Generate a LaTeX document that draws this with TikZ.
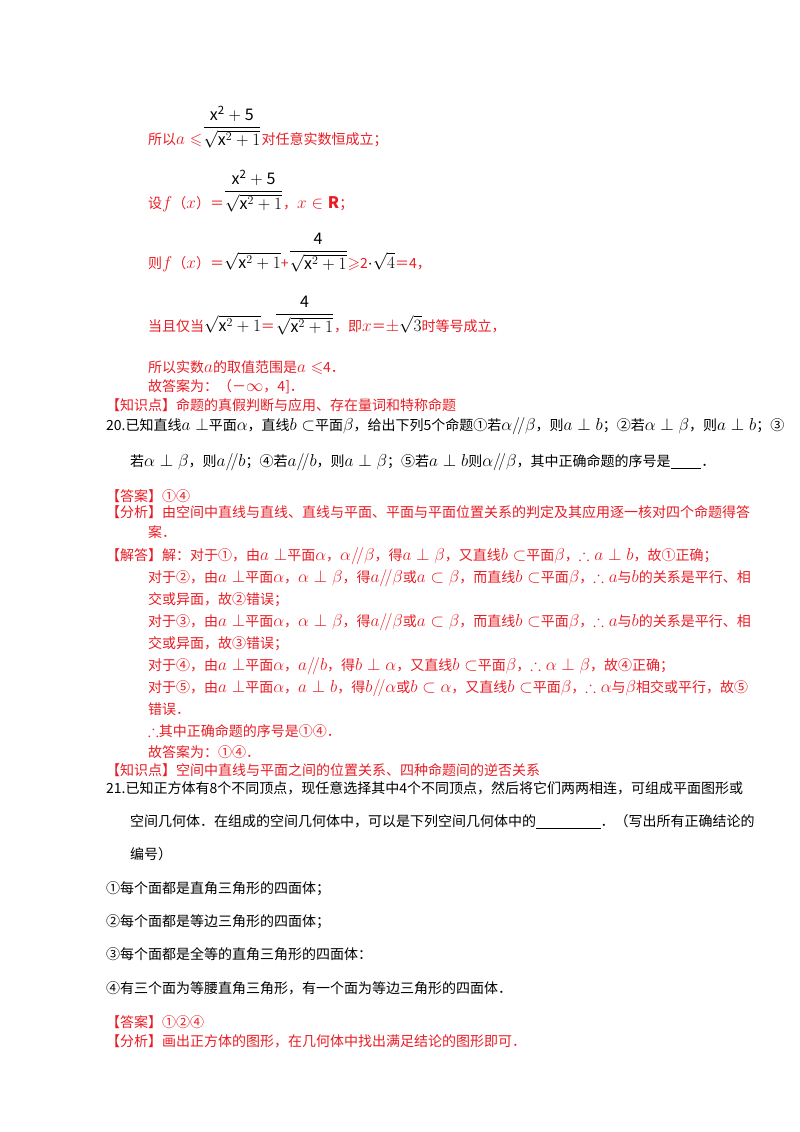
\documentclass[tikz,border=0pt]{standalone}
\usepackage{amssymb}
\usepackage{fontspec}
\setmainfont{Noto Sans CJK SC}
\DeclareMathSizes{14}{16}{11.5}{9}
\definecolor{ans}{RGB}{232,28,36}
\newcommand{\fr}[2]{\raisebox{0.85em}{\color{black}$\displaystyle\frac{\mathrm{#1}}{#2}$}}
\newcommand{\sq}{\sqrt{\mathrm{x}^2+1}}
\newcommand{\pl}{$/\!/$}
\begin{document}
\begin{tikzpicture}[x=1pt,y=-1pt,
 t/.style={anchor=base west,inner sep=0pt,font=\fontsize{14}{16}\selectfont},
 r/.style={t,text=ans}]
\useasboundingbox (0,0) rectangle (800,1132);
\node[r] (l1) at (148,144) {所以$a\leqslant$\fr{x^2+5}{\sq}对任意实数恒成立；};
\node[r] (l2) at (148,208) {设$f$（$x$）＝\fr{x^2+5}{\sq}，$x\in\mathbf{R}$；};
\node[r] (l3) at (148,268) {则$f$（$x$）＝{\color{black}$\sq$}+\fr{4}{\sq}$\geqslant$2{\color{black}$\cdot\sqrt4$}＝4，};
\node[r] (l4) at (148,331) {当且仅当{\color{black}$\sq$}＝\fr{4}{\sq}，即$x$＝$\pm${\color{black}$\sqrt3$}时等号成立，};
\node[r] (l5) at (148,372) {所以实数$a$的取值范围是$a\leqslant$4．};
\node[r] (l6) at (148,391) {故答案为：（－$\infty$，4]．};
\node[r] (k1) at (106,410) {【知识点】命题的真假判断与应用、存在量词和特称命题};
\node[t] (q20) at (106,430) {20.已知直线$a\perp$平面$\alpha$，直线$b\subset$平面$\beta$，给出下列5个命题①若$\alpha$\pl$\beta$，则$a\perp b$；②若$\alpha\perp\beta$，则$a\perp b$；③};
\node[t] (q20b) at (130,466) {若$\alpha\perp\beta$，则$a$\pl$b$；④若$a$\pl$b$，则$a\perp\beta$；⑤若$a\perp b$则$\alpha$\pl$\beta$，其中正确命题的序号是\underline{\hspace{2.2em}}．};
\node[r] (a20) at (106,501) {【答案】①④};
\node[r] (f20) at (106,517) {【分析】由空间中直线与直线、直线与平面、平面与平面位置关系的判定及其应用逐一核对四个命题得答};
\node[r] (f20b) at (148,537) {案．};
\node[r] (s1) at (106,560) {【解答】解：对于①，由$a\perp$平面$\alpha$，$\alpha$\pl$\beta$，得$a\perp\beta$，又直线$b\subset$平面$\beta$，$\therefore a\perp b$，故①正确；};
\node[r] (s2) at (148,582) {对于②，由$a\perp$平面$\alpha$，$\alpha\perp\beta$，得$a$\pl$\beta$或$a\subset\beta$，而直线$b\subset$平面$\beta$，$\therefore a$与$b$的关系是平行、相};
\node[r] (s3) at (148,604) {交或异面，故②错误；};
\node[r] (s4) at (148,626) {对于③，由$a\perp$平面$\alpha$，$\alpha\perp\beta$，得$a$\pl$\beta$或$a\subset\beta$，而直线$b\subset$平面$\beta$，$\therefore a$与$b$的关系是平行、相};
\node[r] (s5) at (148,648) {交或异面，故③错误；};
\node[r] (s6) at (148,670) {对于④，由$a\perp$平面$\alpha$，$a$\pl$b$，得$b\perp\alpha$，又直线$b\subset$平面$\beta$，$\therefore\alpha\perp\beta$，故④正确；};
\node[r] (s7) at (148,692) {对于⑤，由$a\perp$平面$\alpha$，$a\perp b$，得$b$\pl$\alpha$或$b\subset\alpha$，又直线$b\subset$平面$\beta$，$\therefore\alpha$与$\beta$相交或平行，故⑤};
\node[r] (s8) at (148,714) {错误．};
\node[r] (s9) at (148,736) {$\therefore$其中正确命题的序号是①④．};
\node[r] (s10) at (148,757) {故答案为：①④．};
\node[r] (k2) at (106,775) {【知识点】空间中直线与平面之间的位置关系、四种命题间的逆否关系};
\node[t] (q21) at (106,793) {21.已知正方体有8个不同顶点，现任意选择其中4个不同顶点，然后将它们两两相连，可组成平面图形或};
\node[t] (q21b) at (130,826) {空间几何体．在组成的空间几何体中，可以是下列空间几何体中的\underline{\hspace{4.6em}}．（写出所有正确结论的};
\node[t] (q21c) at (130,859) {编号）};
\node[t] (o1) at (106,893) {①每个面都是直角三角形的四面体；};
\node[t] (o2) at (106,926) {②每个面都是等边三角形的四面体；};
\node[t] (o3) at (106,959) {③每个面都是全等的直角三角形的四面体：};
\node[t] (o4) at (106,993) {④有三个面为等腰直角三角形，有一个面为等边三角形的四面体．};
\node[r] (a21) at (106,1027) {【答案】①②④};
\node[r] (f21) at (106,1046) {【分析】画出正方体的图形，在几何体中找出满足结论的图形即可．};
\end{tikzpicture}
\end{document}
